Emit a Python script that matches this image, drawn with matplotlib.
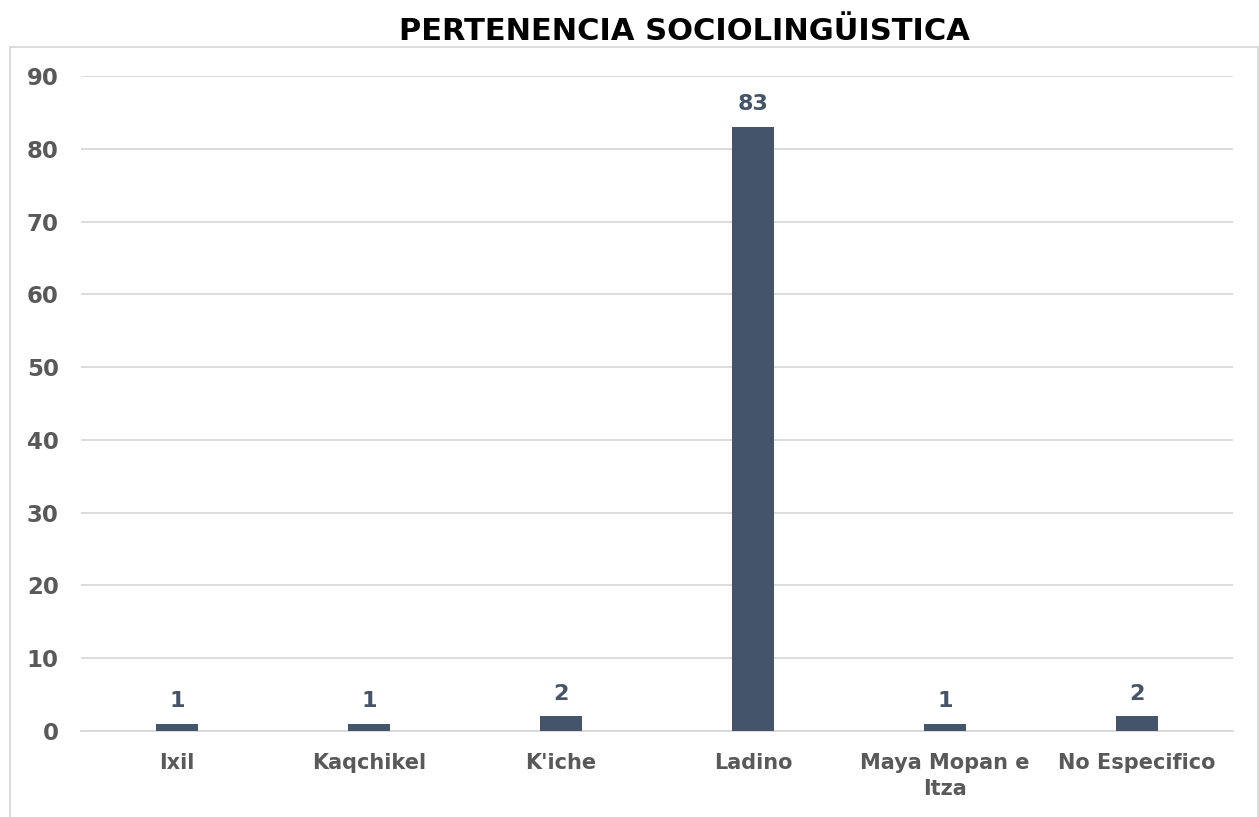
import matplotlib.pyplot as plt
from matplotlib.patches import Rectangle

# Data
categorias = ['Ixil', 'Kaqchikel', "K'iche", 'Ladino', 'Maya Mopan e\nItza', 'No Especifico']
valores = [1, 1, 2, 83, 1, 2]
ticks_y = list(range(0, 91, 10))

bar_color = '#44546A'
label_color = '#595959'
grid_color = '#d9d9d9'

fig = plt.figure(figsize=(12.59, 8.17), dpi=100)
ax = fig.add_axes([0.0643, 0.1053, 0.9150, 0.8017])

# Outer chart border
fig.patches.append(Rectangle((10 / 1259, -0.01), 1248 / 1259, 1 - 47 / 817 + 0.01,
                             transform=fig.transFigure, fill=False,
                             edgecolor=grid_color, linewidth=1.3))

x = range(len(categorias))
bars = ax.bar(x, valores, width=0.22, color=bar_color, zorder=3)

for b, v in zip(bars, valores):
    ax.annotate(str(v), (b.get_x() + b.get_width() / 2, v),
                xytext=(0, 9), textcoords='offset points',
                ha='center', va='bottom', fontsize=16, fontweight='bold',
                color=bar_color)

ax.set_xlim(-0.5, len(categorias) - 0.5)
ax.set_ylim(0, 90)
ax.set_yticks(ticks_y)
ax.set_xticks(list(x))
ax.set_xticklabels(categorias, fontsize=15, fontweight='bold', color=label_color,
                   linespacing=1.35)
ax.tick_params(axis='y', length=0, pad=16, labelsize=16.5, labelcolor=label_color)
ax.tick_params(axis='x', length=0, pad=16)
for lbl in ax.get_yticklabels():
    lbl.set_fontweight('bold')

ax.grid(axis='y', color=grid_color, linewidth=1.3, zorder=0)
for s in ['top', 'right', 'left']:
    ax.spines[s].set_visible(False)
ax.spines['bottom'].set_color(grid_color)
ax.spines['bottom'].set_linewidth(1.3)

fig.text(0.544, 0.962, 'PERTENENCIA SOCIOLINGÜISTICA', ha='center', va='center',
         fontsize=22, fontweight='bold', color='black')

fig.savefig('out.png', dpi=100)
